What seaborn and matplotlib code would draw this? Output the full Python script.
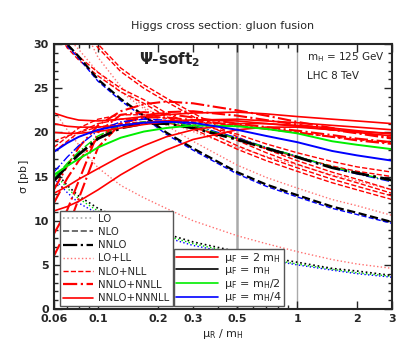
import numpy as np
import pandas as pd
import matplotlib
matplotlib.use('Agg')
import matplotlib.pyplot as plt
import seaborn as sns
from matplotlib.lines import Line2D
from matplotlib.ticker import FixedLocator, NullFormatter, MultipleLocator

# scale ratio mu_R / m_H
mu_r = [0.06, 0.07, 0.08, 0.1, 0.13, 0.17, 0.22, 0.3, 0.5, 0.7, 1, 1.5, 2, 3]

# fixed order LO (dotted)
lo_mh = [15.8, 14.0, 12.8, 11.4, 10.2, 9.3, 8.5, 7.6, 6.5, 5.9, 5.3, 4.6, 4.3, 3.8]
lo_mh2 = [15.4, 13.7, 12.5, 11.1, 10.0, 9.1, 8.3, 7.4, 6.3, 5.7, 5.1, 4.5, 4.1, 3.7]
lo_mh4 = [14.8, 13.2, 12.0, 10.8, 9.7, 8.9, 8.1, 7.2, 6.2, 5.6, 5.0, 4.4, 4.0, 3.6]
lo_2mh = [22.5, 20.3, 18.6, 16.0, 14.0, 12.6, 11.4, 10.0, 8.3, 7.4, 6.5, 5.6, 5.1, 4.6]

# fixed order NLO (dashed)
nlo_mh = [32.0, 30.0, 28.6, 26.0, 23.8, 21.9, 20.0, 18.2, 15.5, 14.1, 12.9, 11.6, 10.9, 9.85]
nlo_mh4 = [31.8, 29.8, 28.4, 25.8, 23.6, 21.7, 19.8, 18.0, 15.3, 13.9, 12.7, 11.4, 10.7, 9.7]

# fixed order NNLO (dash-dot)
nnlo_mh = [14.5, 16.2, 17.5, 19.3, 20.5, 21.0, 21.0, 20.5, 19.2, 18.2, 17.2, 16.0, 15.4, 14.6]
nnlo_mh4 = [15.5, 17.2, 18.5, 20.2, 21.2, 21.5, 21.4, 20.8, 19.4, 18.3, 17.3, 16.0, 15.3, 14.4]
nnlo_mh2 = [14.8, 16.5, 17.8, 19.6, 20.8, 21.2, 21.2, 20.7, 19.3, 18.3, 17.3, 16.1, 15.4, 14.5]

# resummed LO+LL (dotted)
lol_a = [32.8, 30.8, 29.4, 26.8, 24.6, 22.7, 20.8, 19.0, 16.3, 14.9, 13.7, 12.4, 11.7, 10.6]
lol_b = [40.0, 36.0, 33.0, 28.5, 25.2, 22.9, 21.3, 20.1, 18.3, 17.3, 16.3, 15.2, 14.5, 13.5]

# resummed NLO+NLL (dashed), drawn in close pairs
nll_1a = [32.5, 30.0, 28.6, 26.8, 25.0, 23.7, 22.2, 20.8, 18.5, 17.2, 16.0, 14.7, 13.9, 12.8]
nll_1b = [32.0, 29.6, 28.2, 26.4, 24.6, 23.3, 21.8, 20.4, 18.1, 16.8, 15.6, 14.3, 13.5, 12.4]
nll_2a = [37.0, 34.5, 33.0, 30.0, 27.3, 25.4, 23.9, 22.2, 19.5, 18.1, 16.8, 15.5, 14.7, 13.5]
nll_2b = [36.5, 34.0, 32.5, 29.6, 26.9, 25.0, 23.5, 21.8, 19.1, 17.7, 16.4, 15.1, 14.3, 13.1]
nll_5 = [19.0, 19.6, 20.0, 20.6, 21.0, 21.2, 21.3, 21.2, 20.8, 20.4, 20.0, 19.5, 19.2, 18.8]
nll_6 = [18.3, 19.5, 20.5, 21.5, 22.0, 22.0, 21.6, 21.0, 19.8, 18.7, 17.7, 16.7, 16.1, 15.5]
nll_7 = [17.8, 19.0, 20.0, 21.0, 21.5, 21.5, 21.1, 20.5, 19.3, 18.2, 17.2, 16.2, 15.6, 15.0]

# resummed NNLO+NNLL (dash-dot)
nnll_1 = [13.5, 16.2, 18.3, 20.8, 22.4, 23.2, 23.5, 23.3, 22.5, 21.9, 21.2, 20.5, 20.0, 19.4]
nnll_2 = [12.0, 14.8, 16.8, 19.4, 21.0, 21.9, 22.3, 22.4, 21.9, 21.4, 20.9, 20.3, 19.9, 19.3]
nnll_3 = [8.5, 11.2, 14.5, 20.0, 22.0, 22.3, 22.1, 21.7, 21.0, 20.6, 20.2, 19.7, 19.3, 18.9]
nnll_4 = [6.0, 9.0, 12.5, 18.3, 21.0, 21.7, 21.7, 21.4, 20.8, 20.4, 20.0, 19.5, 19.1, 18.7]

# resummed NNLO+NNNLL (solid)
n3ll_2mh_1 = [22.2, 21.7, 21.4, 21.3, 21.5, 21.8, 22.0, 22.2, 22.3, 22.1, 21.8, 21.5, 21.3, 21.0]
n3ll_2mh_2 = [20.0, 19.9, 19.9, 20.1, 20.5, 20.9, 21.2, 21.4, 21.5, 21.3, 21.1, 20.8, 20.6, 20.3]
n3ll_2mh_3 = [21.0, 20.7, 20.6, 20.6, 20.8, 21.1, 21.3, 21.4, 21.3, 21.0, 20.7, 20.3, 20.1, 19.9]
n3ll_2mh_4 = [13.1, 13.9, 14.7, 15.9, 17.3, 18.5, 19.5, 20.3, 21.0, 21.0, 20.8, 20.5, 20.2, 19.8]
n3ll_2mh_5 = [11.1, 11.6, 12.2, 13.5, 15.2, 16.7, 18.0, 19.2, 20.3, 20.6, 20.6, 20.3, 20.0, 19.6]
n3ll_mh4 = [17.8, 18.8, 19.5, 20.3, 20.8, 21.1, 21.2, 21.1, 20.3, 19.6, 18.9, 17.9, 17.4, 16.8]
n3ll_mh2 = [15.2, 16.2, 17.0, 18.3, 19.4, 20.1, 20.5, 20.8, 20.7, 20.4, 19.9, 19.0, 18.6, 18.1]

sns.set_style('ticks')
plt.rcParams['font.family'] = ['DejaVu Sans']
plt.rcParams['mathtext.default'] = 'regular'

fig = plt.figure(figsize=(4.11, 3.56), dpi=100)
ax = fig.add_axes([0.131, 0.132, 0.823, 0.744])

PINK = '#ff7070'
RED = '#ff0000'

curves = [
    (lo_mh4, 'blue', ':', 1.0),
    (lo_mh2, '#00dd00', ':', 1.0),
    (lo_mh, 'black', ':', 1.2),
    (lo_2mh, PINK, ':', 1.0),
    (lol_a, PINK, ':', 1.0),
    (lol_b, PINK, ':', 1.0),
    (nll_1a, RED, '--', 1.0),
    (nll_1b, RED, '--', 1.0),
    (nll_2a, RED, '--', 1.0),
    (nll_2b, RED, '--', 1.0),
    (nll_5, RED, '--', 1.0),
    (nll_6, RED, '--', 1.0),
    (nll_7, RED, '--', 1.0),
    (nlo_mh4, 'blue', '--', 1.0),
    (nlo_mh, 'black', '--', 1.6),
    (nnll_1, RED, '-.', 1.5),
    (nnll_2, RED, '-.', 1.5),
    (nnll_3, RED, '-.', 1.5),
    (nnll_4, RED, '-.', 1.5),
    (nnlo_mh4, 'blue', '-.', 1.0),
    (nnlo_mh2, '#00dd00', '-.', 1.0),
    (nnlo_mh, 'black', '-.', 2.0),
    (n3ll_2mh_1, RED, '-', 1.2),
    (n3ll_2mh_2, RED, '-', 1.2),
    (n3ll_2mh_3, RED, '-', 1.2),
    (n3ll_2mh_4, RED, '-', 1.2),
    (n3ll_2mh_5, RED, '-', 1.2),
    (n3ll_mh2, '#00ee00', '-', 1.4),
    (n3ll_mh4, 'blue', '-', 1.4),
]

for vals, col, ls, lw in curves:
    sns.lineplot(x=mu_r, y=vals, ax=ax, color=col, linestyle=ls, linewidth=lw)

ax.axvline(0.5, color='#aaaaaa', lw=1.8, zorder=0.5)
ax.axvline(1.0, color='#aaaaaa', lw=1.0, zorder=0.5)

ax.set_xscale('log')
ax.set_xlim(0.06, 3)
ax.set_ylim(0, 30)
xt = [0.06, 0.1, 0.2, 0.3, 0.5, 1, 2, 3]
ax.xaxis.set_major_locator(FixedLocator(xt))
ax.set_xticklabels(['0.06', '0.1', '0.2', '0.3', '0.5', '1', '2', '3'])
ax.xaxis.set_minor_locator(FixedLocator([0.07, 0.08, 0.09, 0.4, 0.6, 0.7, 0.8, 0.9]))
ax.xaxis.set_minor_formatter(NullFormatter())
ax.yaxis.set_major_locator(MultipleLocator(5))
ax.yaxis.set_minor_locator(MultipleLocator(1))
ax.tick_params(which='both', direction='in', top=True, right=True, labelsize=8, width=1)
ax.tick_params(which='major', length=6)
ax.tick_params(which='minor', length=3)
for lab in ax.get_xticklabels() + ax.get_yticklabels():
    lab.set_fontweight('bold')
for sp in ax.spines.values():
    sp.set_linewidth(1.5)

ax.set_title('Higgs cross section: gluon fusion', fontsize=8, pad=11)
ax.set_xlabel(r'$\mu_R$ / m$_H$', fontsize=8, labelpad=2)
ax.set_ylabel(r'$\sigma$ [pb]', fontsize=8, labelpad=2)

ax.text(0.343, 0.94, r'$\Psi$-soft$_2$', transform=ax.transAxes, fontsize=11,
        fontweight='bold', ha='center', va='center')
ax.text(0.749, 0.951, r'm$_H$ = 125 GeV', transform=ax.transAxes, fontsize=7.5,
        ha='left', va='center')
ax.text(0.749, 0.879, 'LHC 8 TeV', transform=ax.transAxes, fontsize=7.5,
        ha='left', va='center')

order_handles = [
    Line2D([], [], color='#aaaaaa', ls=':', lw=1.2),
    Line2D([], [], color='#555555', ls='--', lw=1.2),
    Line2D([], [], color='black', ls='-.', lw=1.6),
    Line2D([], [], color=PINK, ls=':', lw=1.0),
    Line2D([], [], color=RED, ls='--', lw=1.0),
    Line2D([], [], color=RED, ls='-.', lw=1.6),
    Line2D([], [], color=RED, ls='-', lw=1.2),
]
order_labels = ['LO', 'NLO', 'NNLO', 'LO+LL', 'NLO+NLL', 'NNLO+NNLL', 'NNLO+NNNLL']
leg1 = ax.legend(order_handles, order_labels, loc='lower left',
                 bbox_to_anchor=(0.018, 0.011), fontsize=7.3, handlelength=3.0,
                 labelspacing=0.32, borderpad=0.3, handletextpad=0.5,
                 fancybox=False, edgecolor='#555555', framealpha=1, borderaxespad=0)
leg1.get_frame().set_linewidth(1.0)
leg1.set_zorder(5)

muf_handles = [
    Line2D([], [], color=RED, lw=1.2),
    Line2D([], [], color='black', lw=1.2),
    Line2D([], [], color='#00ee00', lw=1.2),
    Line2D([], [], color='blue', lw=1.2),
]
muf_labels = [r'$\mu_F$ = 2 m$_H$', r'$\mu_F$ = m$_H$', r'$\mu_F$ = m$_H$/2',
              r'$\mu_F$ = m$_H$/4']
leg2 = ax.legend(muf_handles, muf_labels, loc='lower left',
                 bbox_to_anchor=(0.355, 0.011), fontsize=8.0, handlelength=3.8,
                 labelspacing=-0.02, borderpad=0.15, handletextpad=0.6,
                 fancybox=False, edgecolor='#555555', framealpha=1, borderaxespad=0)
leg2.get_frame().set_linewidth(1.0)
leg2.set_zorder(4)
ax.add_artist(leg1)

fig.savefig('out.png', dpi=100)
plt.close(fig)
